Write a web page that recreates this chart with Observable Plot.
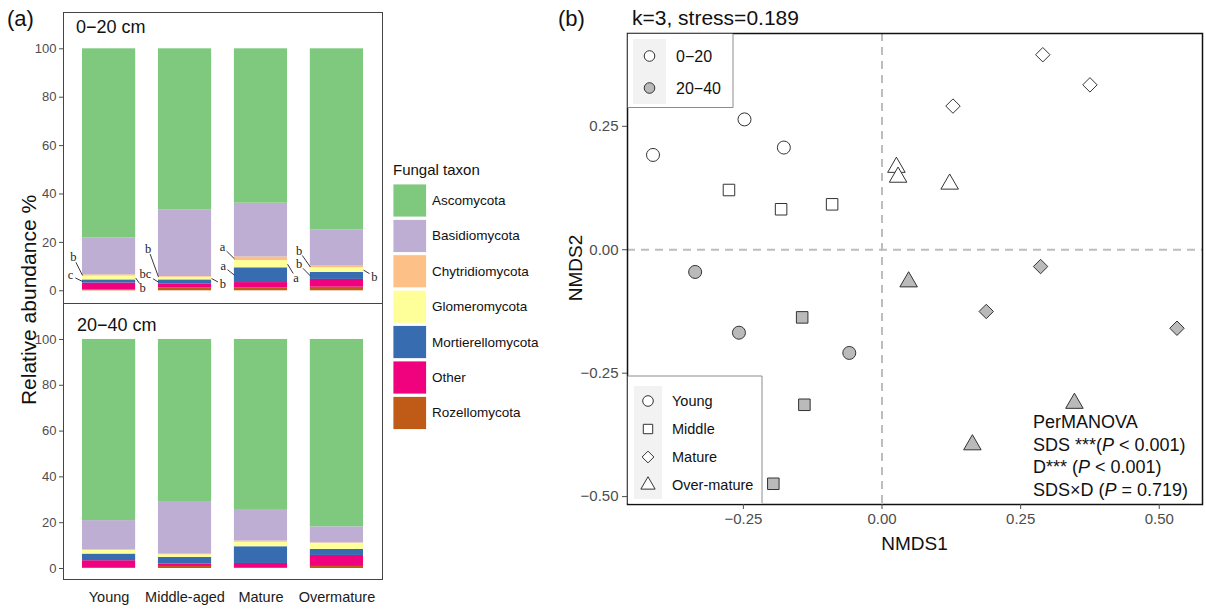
<!DOCTYPE html>
<html><head><meta charset="utf-8">
<script src="https://cdn.jsdelivr.net/npm/d3@7"></script>
<script src="https://cdn.jsdelivr.net/npm/@observablehq/plot@0.6"></script>
<style>
body{margin:0;background:#fff;}
#root{position:relative;width:1206px;height:611px;overflow:hidden;background:#fff;font-family:"Liberation Sans",Arial,sans-serif;}
#root svg{position:absolute;}
</style></head><body><div id="root"></div>
<script>
// ---------------- DATA ----------------
const stages = ["Young","Middle-aged","Mature","Overmature"];
const taxa = ["Ascomycota","Basidiomycota","Chytridiomycota","Glomeromycota","Mortierellomycota","Other","Rozellomycota"];
const taxonColors = ["#7fc97f","#beaed4","#fdc086","#ffff99","#386cb0","#f0027f","#bf5b17"];
// relative abundance (%) per stage, in taxa order
const young_0_20   = [78.2,15.2,0.5,1.6,1.3,2.8,0.4];
const middle_0_20  = [66.5,27.6,0.3,1.1,1.8,1.6,1.1];
const mature_0_20  = [63.8,22.2,1.5,3.0,6.1,2.2,1.2];
const over_0_20    = [74.8,15.0,0.7,1.9,2.9,3.2,1.5];
const young_20_40  = [79.1,12.7,0.3,1.6,2.9,3.0,0.4];
const middle_20_40 = [71.1,22.6,0.3,1.2,2.9,1.0,0.9];
const mature_20_40 = [74.6,13.4,0.5,2.0,7.3,1.8,0.4];
const over_20_40   = [81.8,7.0,0.2,2.7,2.6,4.8,0.9];
// significance letters, 0-20 cm, per stage
const chytridLetters = ["b","b","a","b"];
const mortierellaLetters = ["c","bc","a","b"];
const glomeroLetters = ["b","b","a","b"];

// NMDS scores
const depthLabels = ["0\u221220","20\u221240"];
const stageLabels = ["Young","Middle","Mature","Over-mature"];
const pointStage = ["Young","Young","Young","Middle","Middle","Middle","Mature","Mature","Mature","Over-mature","Over-mature","Over-mature",
                    "Young","Young","Young","Middle","Middle","Middle","Mature","Mature","Mature","Over-mature","Over-mature","Over-mature"];
const pointDepth = ["0\u221220","0\u221220","0\u221220","0\u221220","0\u221220","0\u221220","0\u221220","0\u221220","0\u221220","0\u221220","0\u221220","0\u221220",
                    "20\u221240","20\u221240","20\u221240","20\u221240","20\u221240","20\u221240","20\u221240","20\u221240","20\u221240","20\u221240","20\u221240","20\u221240"];
const nmds1 = [-0.413,-0.248,-0.177, -0.276,-0.182,-0.090, 0.290,0.375,0.128, 0.026,0.029,0.122,
               -0.337,-0.258,-0.059, -0.144,-0.140,-0.196, 0.286,0.188,0.532, 0.048,0.347,0.163];
const nmds2 = [0.192,0.264,0.207, 0.121,0.082,0.092, 0.395,0.334,0.291, 0.167,0.147,0.133,
               -0.045,-0.168,-0.209, -0.137,-0.314,-0.474, -0.034,-0.125,-0.159, -0.065,-0.311,-0.395];
const nmdsTicks = [-0.25,0,0.25,0.5];
const nmds2Ticks = [-0.5,-0.25,0,0.25];
const pctTicks = [0,20,40,60,80,100];

// ---------------- LAYOUT ----------------
const FONT = "Liberation Sans, Arial, sans-serif";
const root = document.getElementById("root");
function place(node, left, top){ node.style.left = left+"px"; node.style.top = top+"px"; root.appendChild(node); }

const barHalf = 0.35;
const xDomA = [0.4, 4.6];
const widthA = 400, mLeftA = 63, mRightA = 18;
const pxPerX = (widthA - mLeftA - mRightA) / (xDomA[1]-xDomA[0]);

function stackRows(list){
  const out = [];
  list.forEach((vals, si) => {
    let y = 0;
    for (let t = taxa.length-1; t >= 0; t--) {
      out.push({stage: stages[si], i: si+1, taxon: taxa[t], y1: y, y2: y + vals[t]});
      y += vals[t];
    }
  });
  return out;
}
const rowsTop = stackRows([young_0_20, middle_0_20, mature_0_20, over_0_20]);
const rowsBot = stackRows([young_20_40, middle_20_40, mature_20_40, over_20_40]);

// letter label nudges (pixels, ggrepel-like placement)
const nudges = {
  Chytridiomycota:   {side:-1, d:[[-9,-18],[-10.2,-28],[-11.8,-11.5],[-11.2,-16]]},
  Mortierellomycota: {side:-1, d:[[-12,-6],[-13,-8],[-11.2,-9],[-11.2,-11.5]]},
  Glomeromycota:     {side: 1, d:[[7,10],[11.2,5.9],[8.5,14],[10.8,6.4]]}
};

function barPanel(rows, opts){
  const {height, marginTop, marginBottom, yDomain, showX, letters} = opts;
  const pxPerY = (height - marginTop - marginBottom) / (yDomain[1]-yDomain[0]);
  const marks = [
    Plot.rect(rows, {x1: d => d.i - barHalf, x2: d => d.i + barHalf, y1: "y1", y2: "y2", fill: "taxon"}),
    Plot.frame({stroke: "#444", strokeWidth: 1}),
    Plot.axisY({ticks: pctTicks, tickSize: 4, tickPadding: 3, fontSize: 13, label: null, color: "#4d4d4d"})
  ];
  if (showX) marks.push(Plot.axisX({ticks: [1,2,3,4], tickFormat: i => stages[i-1], tickSize: 0, tickPadding: 12, fontSize: 14.5, label: null, color: "#1a1a1a"}));
  if (letters) {
    const lab = [];
    const sets = [["Chytridiomycota", chytridLetters], ["Mortierellomycota", mortierellaLetters], ["Glomeromycota", glomeroLetters]];
    for (const [taxon, arr] of sets) {
      arr.forEach((label, si) => {
        const seg = rows.find(r => r.i === si+1 && r.taxon === taxon);
        const n = nudges[taxon];
        const [dx, dy] = n.d[si];
        const tx = si + 1 + n.side * barHalf, ty = (seg.y1 + seg.y2) / 2;
        const len = Math.hypot(dx, dy), gap = label.length > 1 ? 9 : 5.5;
        const f = Math.max(0, 1 - gap/len);
        lab.push({label, tx, ty,
          lx: tx + dx/pxPerX, ly: ty - dy/pxPerY,
          px: tx + f*dx/pxPerX, py: ty - f*dy/pxPerY});
      });
    }
    marks.push(Plot.link(lab, {x1: "tx", y1: "ty", x2: "px", y2: "py", stroke: "#222", strokeWidth: 0.9}));
    marks.push(Plot.text(lab, {x: "lx", y: "ly", text: "label", fontFamily: "Liberation Serif, DejaVu Serif, serif", fontSize: 12.5, fill: "#222"}));
  }
  return Plot.plot({
    width: widthA, height, marginLeft: mLeftA, marginRight: mRightA, marginTop, marginBottom,
    x: {domain: xDomA, axis: null},
    y: {domain: yDomain, axis: null},
    color: {type: "ordinal", domain: taxa, range: taxonColors},
    style: {fontFamily: FONT, fontSize: "13px", background: "transparent", overflow: "visible"},
    marks
  });
}

place(barPanel(rowsTop, {height: 305, marginTop: 12, marginBottom: 2, yDomain: [-5.25, 115.0], showX: false, letters: true}), 0, 0);
place(barPanel(rowsBot, {height: 311, marginTop: 3, marginBottom: 32, yDomain: [-4.8, 115.7], showX: true, letters: false}), 0, 300);

// ---------------- PANEL (b) ----------------
const points = nmds1.map((x, k) => ({nmds1: x, nmds2: nmds2[k], stage: pointStage[k], depth: pointDepth[k]}));
const symbolRange = ["circle","square","diamond2","triangle"];
const fillRange = ["#ffffff","#bababa"];
const plotB = Plot.plot({
  width: 646, height: 560, marginLeft: 67, marginTop: 33, marginRight: 4, marginBottom: 56,
  x: {domain: [-0.459, 0.578], axis: null},
  y: {domain: [-0.516, 0.438], axis: null},
  symbol: {domain: stageLabels, range: symbolRange},
  color: {domain: depthLabels, range: fillRange},
  style: {fontFamily: FONT, fontSize: "15px", background: "transparent", overflow: "visible"},
  marks: [
    Plot.ruleX([0], {stroke: "#bdbdbd", strokeWidth: 2, strokeDasharray: "8,6"}),
    Plot.ruleY([0], {stroke: "#bdbdbd", strokeWidth: 2, strokeDasharray: "8,6"}),
    Plot.dot(points, {x: "nmds1", y: "nmds2", symbol: "stage", fill: "depth", stroke: "#333", strokeWidth: 1, r: 6.5}),
    Plot.frame({stroke: "#111", strokeWidth: 1.5}),
    Plot.axisX({ticks: nmdsTicks, tickFormat: d3.format(".2f"), tickSize: 5, tickPadding: 4, fontSize: 15, label: null, color: "#4d4d4d"}),
    Plot.axisY({ticks: nmds2Ticks, tickFormat: d3.format(".2f"), tickSize: 5, tickPadding: 4, fontSize: 15, label: null, color: "#4d4d4d"})
  ]
});
place(plotB, 560, 0);

// ---------------- OVERLAY: titles, legends ----------------
const svg = d3.create("svg").attr("width", 1206).attr("height", 611)
  .style("font-family", FONT).style("pointer-events", "none");
function txt(x, y, s, size, o = {}) {
  const t = svg.append("text").attr("x", x).attr("y", y).attr("font-size", size)
    .attr("fill", o.fill || "#111").attr("text-anchor", o.anchor || "start")
    .attr("dominant-baseline", o.baseline || "central");
  if (o.rotate) t.attr("transform", `rotate(${o.rotate},${x},${y})`);
  t.text(s);
  return t;
}
txt(7, 18, "(a)", 22);
txt(558, 18, "(b)", 22);
txt(632, 17, "k=3, stress=0.189", 21);
txt(36, 300, "Relative abundance %", 21, {anchor: "middle", baseline: "auto", rotate: -90});
txt(76, 27, "0\u221220 cm", 18);
txt(77, 325, "20\u221240 cm", 18);
txt(914.5, 543, "NMDS1", 19, {anchor: "middle"});
txt(582, 268, "NMDS2", 19, {anchor: "middle", baseline: "auto", rotate: -90});

// fungal taxon legend
txt(393, 169, "Fungal taxon", 15);
taxa.forEach((t, k) => {
  const y0 = 184 + k * 35.4;
  svg.append("rect").attr("x", 393).attr("y", y0).attr("width", 33.5).attr("height", 33)
    .attr("fill", taxonColors[k]).attr("stroke", "#fff").attr("stroke-width", 0.8);
  txt(432, y0 + 16.5, t, 13.5);
});

// depth legend (top-left)
svg.append("rect").attr("x", 627.75).attr("y", 33.75).attr("width", 105).attr("height", 74).attr("fill", "#fff");
svg.append("path").attr("d", "M627.75,107.5H733V33.75").attr("fill", "none").attr("stroke", "#8c8c8c").attr("stroke-width", 1);
svg.append("rect").attr("x", 633).attr("y", 39).attr("width", 33).attr("height", 65).attr("fill", "#f2f2f2");
depthLabels.forEach((d, k) => {
  const y = 56 + k * 32;
  svg.append("path").attr("d", d3.symbol(d3.symbolCircle, Math.PI * 5.3 * 5.3)())
    .attr("transform", `translate(649.5,${y})`).attr("fill", fillRange[k]).attr("stroke", "#333");
  txt(676, y, d, 16);
});

// stage legend (bottom-left)
svg.append("rect").attr("x", 627.75).attr("y", 376).attr("width", 134).attr("height", 127.5).attr("fill", "#fff");
svg.append("path").attr("d", "M627.75,376H762V503.25").attr("fill", "none").attr("stroke", "#8c8c8c").attr("stroke-width", 1);
svg.append("rect").attr("x", 634).attr("y", 386).attr("width", 28).attr("height", 113).attr("fill", "#f2f2f2");
const legSym = [d3.symbolCircle, d3.symbolSquare, d3.symbolDiamond2, d3.symbolTriangle];
stageLabels.forEach((s, k) => {
  const y = 401 + k * 28;
  svg.append("path").attr("d", d3.symbol(legSym[k], Math.PI * 5.3 * 5.3)())
    .attr("transform", `translate(648,${y})`).attr("fill", "#fff").attr("stroke", "#333");
  txt(672, y, s, 14.5);
});

// PerMANOVA annotation
function richLine(y, parts) {
  const t = svg.append("text").attr("x", 1033).attr("y", y).attr("font-size", 18)
    .attr("fill", "#111").attr("dominant-baseline", "central");
  parts.forEach(([s, it]) => t.append("tspan").attr("font-style", it ? "italic" : "normal").text(s));
}
richLine(422, [["PerMANOVA", false]]);
richLine(445, [["SDS ***(", false], ["P", true], [" < 0.001)", false]]);
richLine(467, [["D*** (", false], ["P", true], [" < 0.001)", false]]);
richLine(490, [["SDS\u00d7D (", false], ["P", true], [" = 0.719)", false]]);

place(svg.node(), 0, 0);
</script></body></html>
